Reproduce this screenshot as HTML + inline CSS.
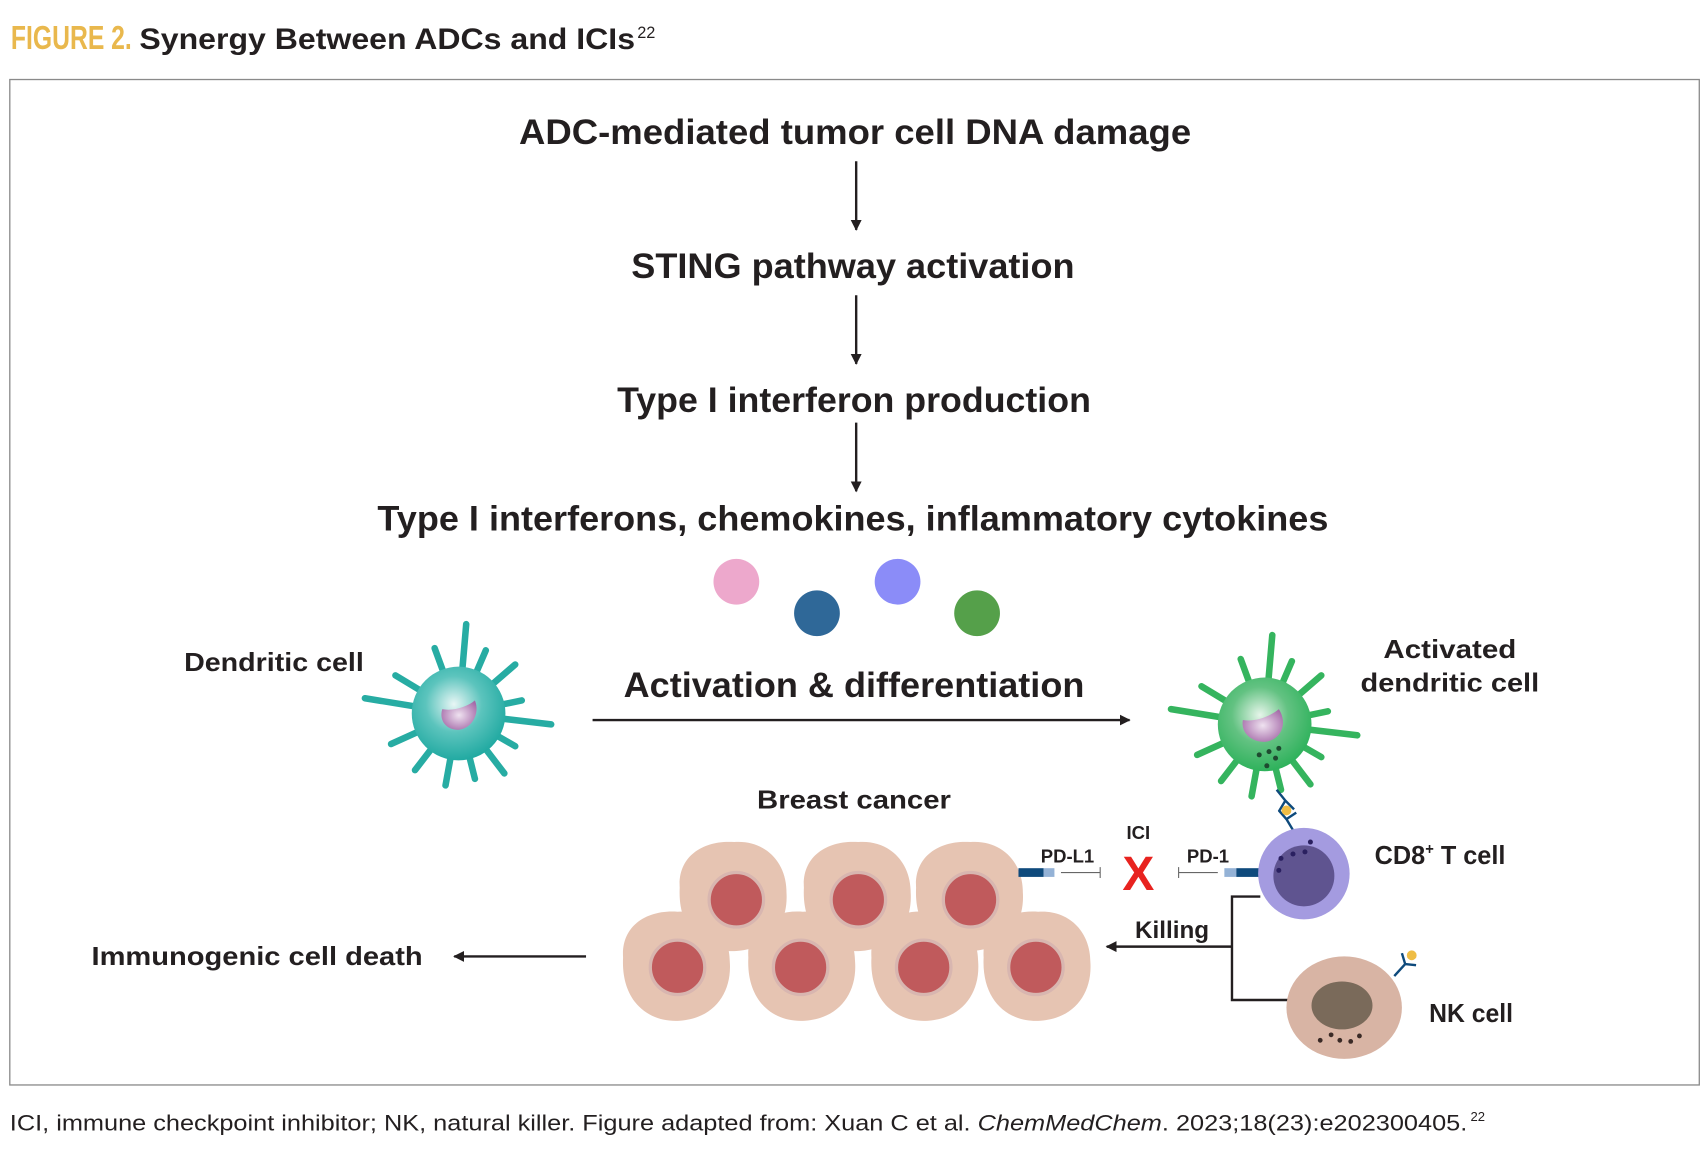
<!DOCTYPE html>
<html><head><meta charset="utf-8"><style>
html,body{margin:0;padding:0;background:#fff;}
svg{display:block;}
text{font-family:"Liberation Sans",Arial,sans-serif;fill:#231f20;}
</style></head><body>
<svg width="1708" height="1150" viewBox="0 0 1568 1055.7" preserveAspectRatio="none" xmlns="http://www.w3.org/2000/svg">
<defs>
<radialGradient id="gt" cx="0.45" cy="0.4" r="0.6"><stop offset="0" stop-color="#e8f6f5"/><stop offset="0.5" stop-color="#5cc4bd"/><stop offset="1" stop-color="#22aaa2"/></radialGradient>
<radialGradient id="gg" cx="0.45" cy="0.4" r="0.6"><stop offset="0" stop-color="#e6f5ea"/><stop offset="0.5" stop-color="#63c282"/><stop offset="1" stop-color="#2fb25c"/></radialGradient>
<radialGradient id="gn" cx="0.5" cy="0.5" r="0.6"><stop offset="0" stop-color="#efe2f0"/><stop offset="1" stop-color="#a46aa8"/></radialGradient>
<marker id="ah" markerWidth="10" markerHeight="10" refX="9" refY="5" orient="auto" markerUnits="userSpaceOnUse"><path d="M0,0 L10,5 L0,10 Z" fill="#231f20"/></marker>
<g id="spk">
<line x1="0" y1="0" x2="7" y2="-82"/><line x1="0" y1="0" x2="-86" y2="-14"/><line x1="0" y1="0" x2="85" y2="10"/>
<line x1="0" y1="0" x2="-22" y2="-60"/><line x1="0" y1="0" x2="25" y2="-58"/><line x1="0" y1="0" x2="52" y2="-45"/>
<line x1="0" y1="0" x2="-58" y2="-35"/><line x1="0" y1="0" x2="58" y2="-12"/><line x1="0" y1="0" x2="-62" y2="28"/>
<line x1="0" y1="0" x2="52" y2="30"/><line x1="0" y1="0" x2="-40" y2="52"/><line x1="0" y1="0" x2="-12" y2="66"/>
<line x1="0" y1="0" x2="15" y2="60"/><line x1="0" y1="0" x2="42" y2="55"/>
</g>
<path id="cellb" d="M-48,-8 C-50,-38 -25,-52 2,-50 C30,-52 50,-32 50,-4 C52,25 35,48 4,50 C-25,52 -50,32 -48,-8 Z"/>
</defs>

<text x="10" y="45" font-size="31" font-weight="bold" fill="#e9b84d" style="fill:#e9b84d" textLength="111" lengthAdjust="spacingAndGlyphs">FIGURE 2.</text>
<text x="128" y="45" font-size="27" font-weight="bold" textLength="455" lengthAdjust="spacingAndGlyphs">Synergy Between ADCs and ICIs</text>
<text x="585" y="35" font-size="15">22</text>

<rect x="9" y="73" width="1551" height="923" fill="none" stroke="#8a8a8a" stroke-width="1.2"/>

<g font-weight="bold" text-anchor="middle">
<text x="785" y="132" font-size="32" textLength="617" lengthAdjust="spacingAndGlyphs">ADC-mediated tumor cell DNA damage</text>
<text x="783" y="255" font-size="32" textLength="407" lengthAdjust="spacingAndGlyphs">STING pathway activation</text>
<text x="784" y="378" font-size="32" textLength="435" lengthAdjust="spacingAndGlyphs">Type I interferon production</text>
<text x="783" y="487" font-size="32" textLength="873" lengthAdjust="spacingAndGlyphs">Type I interferons, chemokines, inflammatory cytokines</text>
<text x="784" y="640" font-size="32" textLength="423" lengthAdjust="spacingAndGlyphs">Activation &amp; differentiation</text>
</g>
<g stroke="#231f20" stroke-width="2.2" marker-end="url(#ah)">
<line x1="786" y1="148" x2="786" y2="211"/>
<line x1="786" y1="271" x2="786" y2="334"/>
<line x1="786" y1="388" x2="786" y2="451"/>
<line x1="544" y1="661" x2="1037" y2="661"/>
<line x1="538" y1="878" x2="417" y2="878"/>
</g>

<circle cx="676" cy="534" r="21" fill="#eda8cc"/>
<circle cx="750" cy="563" r="21" fill="#2f6898"/>
<circle cx="824" cy="534" r="21" fill="#8b8cf8"/>
<circle cx="897" cy="563" r="21" fill="#55a04a"/>

<g font-weight="bold" font-size="24">
<text x="169" y="616" textLength="165" lengthAdjust="spacingAndGlyphs">Dendritic cell</text>
<text x="1331" y="604" text-anchor="middle" textLength="122" lengthAdjust="spacingAndGlyphs">Activated</text>
<text x="1331" y="635" text-anchor="middle" textLength="164" lengthAdjust="spacingAndGlyphs">dendritic cell</text>
<text x="784" y="742" text-anchor="middle" textLength="178" lengthAdjust="spacingAndGlyphs">Breast cancer</text>
<text x="84" y="886" textLength="304" lengthAdjust="spacingAndGlyphs">Immunogenic cell death</text>
<text x="1262" y="793" textLength="120" lengthAdjust="spacingAndGlyphs">CD8<tspan font-size="14" dy="-9">+</tspan><tspan dy="9"> T cell</tspan></text>
<text x="1312" y="938" textLength="77" lengthAdjust="spacingAndGlyphs">NK cell</text>
<text x="1042" y="861" font-size="22" textLength="68" lengthAdjust="spacingAndGlyphs">Killing</text>
</g>
<g font-weight="bold" font-size="17">
<text x="1045" y="770" text-anchor="middle">ICI</text>
<text x="980" y="792" text-anchor="middle">PD-L1</text>
<text x="1109" y="792" text-anchor="middle">PD-1</text>
</g>

<g transform="translate(421,655)">
<use href="#spk" stroke="#27aca3" stroke-width="6" stroke-linecap="round"/>
<circle r="43" fill="url(#gt)"/>
<path d="M-15,-4 C-5,-2 8,-6 15,-12 C20,0 12,14 0,15 C-12,15 -18,6 -15,-4Z" fill="url(#gn)"/>
</g>
<g transform="translate(1161,665)">
<use href="#spk" stroke="#35b45e" stroke-width="6" stroke-linecap="round"/>
<circle r="43" fill="url(#gg)"/>
<path d="M-20,-4 C-8,-2 6,-8 13,-14 C22,0 14,15 0,16 C-14,16 -22,6 -20,-4Z" fill="url(#gn)"/>
<g fill="#1e4a30"><circle cx="-5" cy="28" r="2.3"/><circle cx="4" cy="25" r="2.3"/><circle cx="13" cy="22" r="2.3"/><circle cx="10" cy="31" r="2.3"/><circle cx="2" cy="38" r="2.3"/></g>
</g>

<g stroke="#0e4a7c" stroke-width="2.2" fill="none">
<path d="M1172,725 L1180,735 M1180,735 L1174,745 M1180,735 L1188,743"/>
<path d="M1187,762 L1181,752 M1181,752 L1174,744 M1181,752 L1190,746"/>
</g>
<circle cx="1181" cy="744" r="4.5" fill="#efbd45"/>

<g fill="#e6c4b2">
<use href="#cellb" x="672" y="823"/><use href="#cellb" x="786" y="823"/><use href="#cellb" x="889" y="823"/>
<use href="#cellb" x="620" y="887"/><use href="#cellb" x="735" y="887"/><use href="#cellb" x="848" y="887"/><use href="#cellb" x="951" y="887"/>
</g>
<g fill="#c05a5c" stroke="#d8b6b0" stroke-width="3">
<circle cx="676" cy="826" r="25"/><circle cx="788" cy="826" r="25"/><circle cx="891" cy="826" r="25"/>
<circle cx="622" cy="888" r="25"/><circle cx="735" cy="888" r="25"/><circle cx="848" cy="888" r="25"/><circle cx="951" cy="888" r="25"/>
</g>

<rect x="935" y="797" width="23" height="8" fill="#0e4a7c"/>
<rect x="958" y="797" width="10" height="8" fill="#94b2d6"/>
<line x1="974" y1="801" x2="1010" y2="801" stroke="#666" stroke-width="1"/>
<line x1="1010" y1="796" x2="1010" y2="806" stroke="#666" stroke-width="1"/>
<line x1="1082" y1="801" x2="1118" y2="801" stroke="#666" stroke-width="1"/>
<line x1="1082" y1="796" x2="1082" y2="806" stroke="#666" stroke-width="1"/>
<rect x="1124" y="797" width="11" height="8" fill="#94b2d6"/>
<rect x="1135" y="797" width="24" height="8" fill="#0e4a7c"/>
<text x="1045" y="817" font-size="44" font-weight="bold" text-anchor="middle" style="fill:#e8231f">X</text>

<circle cx="1197" cy="802" r="42" fill="#a49be0"/>
<circle cx="1197" cy="804" r="28" fill="#5f5490"/>
<g fill="#2a2060"><circle cx="1176" cy="788" r="2.3"/><circle cx="1187" cy="784" r="2.3"/><circle cx="1174" cy="799" r="2.3"/><circle cx="1203" cy="773" r="2.3"/><circle cx="1198" cy="782" r="2.3"/></g>

<polyline points="1157,823 1131,823 1131,918 1188,918" fill="none" stroke="#231f20" stroke-width="2.2"/>
<line x1="1131" y1="869" x2="1016" y2="869" stroke="#231f20" stroke-width="2.2" marker-end="url(#ah)"/>

<ellipse cx="1234" cy="925" rx="53" ry="47" fill="#d8b4a4"/>
<ellipse cx="1232" cy="923" rx="28" ry="22" fill="#7a6a5a"/>
<g fill="#3a2a26"><circle cx="1212" cy="955" r="2.2"/><circle cx="1222" cy="950" r="2.2"/><circle cx="1230" cy="955" r="2.2"/><circle cx="1240" cy="956" r="2.2"/><circle cx="1248" cy="951" r="2.2"/></g>
<g stroke="#0e4a7c" stroke-width="2.2" fill="none"><path d="M1280,896 L1290,885 M1290,885 L1287,875 M1290,885 L1300,886"/></g>
<circle cx="1296" cy="877" r="4.5" fill="#efbd45"/>

<text x="9" y="1038" font-size="20" textLength="1338" lengthAdjust="spacingAndGlyphs">ICI, immune checkpoint inhibitor; NK, natural killer. Figure adapted from: Xuan C et al. <tspan font-style="italic">ChemMedChem</tspan>. 2023;18(23):e202300405.</text>
<text x="1350" y="1029" font-size="12">22</text>
</svg>
</body></html>
